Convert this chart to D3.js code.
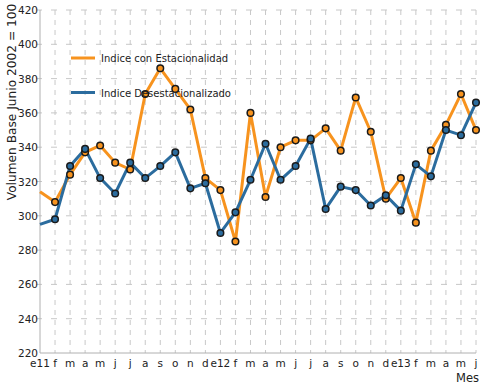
<!DOCTYPE html>
<html>
<head>
<meta charset="utf-8">
<script src="https://cdn.jsdelivr.net/npm/d3@7"></script>
<style>
  body { margin: 0; background: #fff; }
  text { font-family: "DejaVu Sans", Verdana, sans-serif; fill: #222; }
</style>
</head>
<body>
<div id="chart"></div>
<script>
var months = ['e11', 'f', 'm', 'a', 'm', 'j', 'j', 'a', 's', 'o', 'n', 'd',
              'e12', 'f', 'm', 'a', 'm', 'j', 'j', 'a', 's', 'o', 'n', 'd',
              'e13', 'f', 'm', 'a', 'm', 'j'];

var conEstacionalidad = [314, 308, 324, 337, 341, 331, 327, 371, 386, 374, 362, 322,
                         315, 285, 360, 311, 340, 344, 344, 351, 338, 369, 349, 310,
                         322, 296, 338, 353, 371, 350];

var desestacionalizado = [295, 298, 329, 339, 322, 313, 331, 322, 329, 337, 316, 319,
                          290, 302, 321, 342, 321, 329, 345, 304, 317, 315, 306, 312,
                          303, 330, 323, 350, 347, 366];

var yTicks = [220, 240, 260, 280, 300, 320, 340, 360, 380, 400, 420];

var series = [
    { name: 'Indice con Estacionalidad', values: conEstacionalidad, color: '#f7931e' },
    { name: 'Indice Desestacionalizado', values: desestacionalizado, color: '#2b6c9e' }
];

var width = 481, height = 389;
var plotLeft = 40, plotRight = 476, plotTop = 10, plotBottom = 353;

var svg = d3.select('#chart')
    .append('svg')
    .attr('width', width)
    .attr('height', height);

var x = d3.scaleLinear().domain([0, months.length - 1]).range([plotLeft, plotRight]);
var y = d3.scaleLinear().domain([220, 420]).range([plotBottom, plotTop]);

// grid
svg.selectAll('.vgrid')
    .data(d3.range(1, months.length))
    .enter()
    .append('line')
    .attr('x1', function(d) { return x(d); })
    .attr('x2', function(d) { return x(d); })
    .attr('y1', plotTop)
    .attr('y2', plotBottom)
    .attr('stroke', '#c8c8c8')
    .attr('stroke-dasharray', '5,5');

svg.selectAll('.hgrid')
    .data(yTicks.slice(1))
    .enter()
    .append('line')
    .attr('x1', plotLeft - 4)
    .attr('x2', plotRight)
    .attr('y1', function(d) { return y(d); })
    .attr('y2', function(d) { return y(d); })
    .attr('stroke', '#c8c8c8')
    .attr('stroke-dasharray', '6,9');

// axis lines
svg.append('line')
    .attr('x1', plotLeft).attr('x2', plotLeft)
    .attr('y1', plotTop).attr('y2', plotBottom)
    .attr('stroke', '#b0b0b0');
svg.append('line')
    .attr('x1', plotLeft).attr('x2', plotRight)
    .attr('y1', plotBottom).attr('y2', plotBottom)
    .attr('stroke', '#b0b0b0');

// tick labels
svg.selectAll('.ylab')
    .data(yTicks)
    .enter()
    .append('text')
    .attr('x', plotLeft - 2)
    .attr('y', function(d) { return y(d) + 4; })
    .attr('text-anchor', 'end')
    .attr('font-size', 10.5)
    .text(function(d) { return d; });

svg.selectAll('.xlab')
    .data(months)
    .enter()
    .append('text')
    .attr('x', function(d, i) { return x(i); })
    .attr('y', 367)
    .attr('text-anchor', 'middle')
    .attr('font-size', 10.5)
    .text(function(d) { return d; });

svg.append('text')
    .attr('transform', 'translate(16,102) rotate(-90)')
    .attr('text-anchor', 'middle')
    .attr('font-size', 12.2)
    .text('Volumen Base Junio 2002 = 100');

svg.append('text')
    .attr('x', 479)
    .attr('y', 382)
    .attr('text-anchor', 'end')
    .attr('font-size', 11.5)
    .text('Mes');

// series
var line = d3.line()
    .x(function(d, i) { return x(i); })
    .y(function(d) { return y(d); });

series.forEach(function(s) {
    svg.append('path')
        .datum(s.values)
        .attr('d', line)
        .attr('fill', 'none')
        .attr('stroke', s.color)
        .attr('stroke-width', 3)
        .attr('stroke-linejoin', 'round');
});

series.forEach(function(s) {
    svg.selectAll(null)
        .data(s.values.slice(1))
        .enter()
        .append('circle')
        .attr('cx', function(d, i) { return x(i + 1); })
        .attr('cy', function(d) { return y(d); })
        .attr('r', 3.3)
        .attr('fill', s.color)
        .attr('stroke', '#1a1a1a')
        .attr('stroke-width', 1.5);
});

// legend
var legend = svg.selectAll('.legend')
    .data(series)
    .enter()
    .append('g')
    .attr('transform', function(d, i) { return 'translate(71,' + (58 + i * 34.5) + ')'; });

legend.append('line')
    .attr('x1', 0).attr('x2', 24)
    .attr('stroke', function(d) { return d.color; })
    .attr('stroke-width', 3);

legend.append('text')
    .attr('x', 30)
    .attr('y', 4)
    .attr('font-size', 10)
    .text(function(d) { return d.name; });
</script>
</body>
</html>
